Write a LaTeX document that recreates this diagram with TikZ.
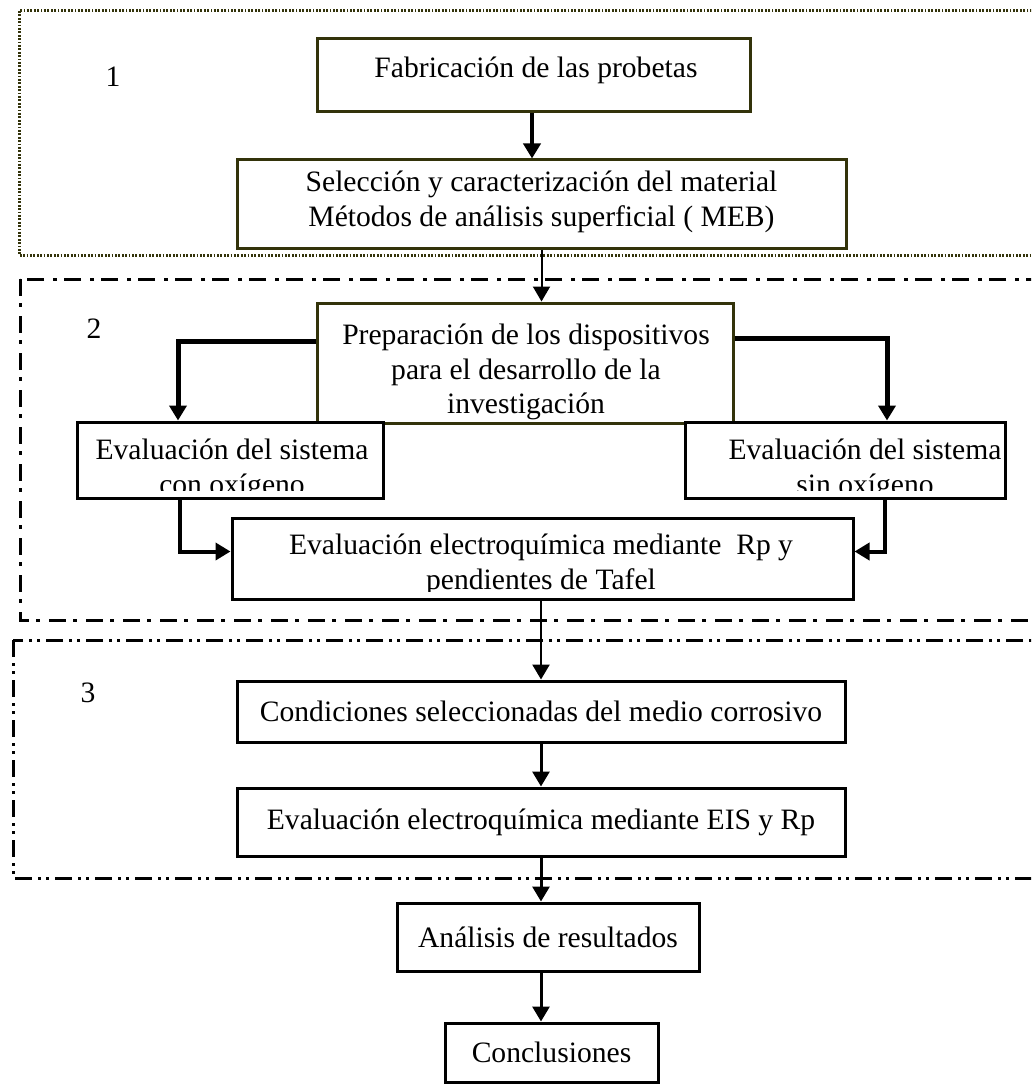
\documentclass[tikz,border=0pt]{standalone}
\usepackage{fontspec}
\setmainfont{Liberation Serif}
\usetikzlibrary{arrows.meta, positioning, calc}
\definecolor{myolive}{RGB}{51,51,10}
\definecolor{mydark}{RGB}{0,0,0}
\tikzset{
  flowbox/.style={rectangle, draw=mydark, fill=white, line width=3pt, inner sep=0pt},
  olivebox/.style={flowbox, draw=myolive},
  boxtext/.style={align=center, inner sep=0pt, font={\fontsize{29.6}{34.5}\selectfont}},
  arrow/.style={-{Triangle[length=15pt,width=17pt]}, line width=3pt, color=mydark},
  fatarrow/.style={arrow, line width=5pt},
  thinarrow/.style={arrow, line width=2pt},
  framedot/.style={draw=myolive, line width=3pt, dash pattern=on 1.8pt off 1.6pt},
  framedash/.style={draw=mydark, line width=3pt, dash pattern=on 17pt off 7pt on 4pt off 9pt},
  framedashdot/.style={draw=mydark, line width=3pt, dash pattern=on 17pt off 6pt on 3pt off 5pt on 3pt off 6pt}
}

\begin{document}
\begin{tikzpicture}[x=1pt, y=-1pt]
  \useasboundingbox (0,0) rectangle (1031,1086);
  \clip (0,0) rectangle (1031,1086);

  % Stage frames
  \draw[framedot] (19,11) rectangle (1060,255);
  \draw[framedash] (20,279) rectangle (1060,620);
  \draw[framedashdot] (13,640) rectangle (1060,878);
  \node[boxtext] (stageone) at (113,77) {1};
  \node[boxtext] (stagetwo) at (94,329) {2};
  \node[boxtext] (stagethree) at (88,693) {3};

  % Stage 1
  \node[olivebox, minimum width=433pt, minimum height=73pt] (fab) at (533.5,75.5) {};
  \node[boxtext] (fabtxt) at (536,70) {Fabricación de las probetas};
  \node[olivebox, minimum width=609pt, minimum height=88pt] (sel) at (541.5,204) {};
  \node[boxtext] (seltxt) at (541.5,202) {Selección y caracterización del material\\Métodos de análisis superficial ( MEB)};

  % Stage 2
  \node[olivebox, minimum width=416pt, minimum height=120pt] (prep) at (525,363) {};
  \node[boxtext] (preptxt) at (526,372) {Preparación de los dispositivos\\para el desarrollo de la\\investigación};
  \node[flowbox, minimum width=306pt, minimum height=76pt] (conox) at (230,460) {};
  \node[flowbox, minimum width=320pt, minimum height=76pt] (sinox) at (845,460) {};
  \node[flowbox, minimum width=621pt, minimum height=81pt] (tafel) at (542.5,558.5) {};
  \begin{scope}
    \clip ([shift={(8pt,-8pt)}]conox.north west) rectangle ([shift={(-8pt,9pt)}]conox.south east);
    \node[boxtext] (conoxtxt) at (232,470) {Evaluación del sistema\\con oxígeno};
  \end{scope}
  \begin{scope}
    \clip ([shift={(8pt,-8pt)}]sinox.north west) rectangle ([shift={(-2pt,9pt)}]sinox.south east);
    \node[boxtext] (sinoxtxt) at (865,470) {Evaluación del sistema\\sin oxígeno};
  \end{scope}
  \begin{scope}
    \clip ([shift={(8pt,-8pt)}]tafel.north west) rectangle ([shift={(-8pt,9pt)}]tafel.south east);
    \node[boxtext] (tafeltxt) at (541,565) {Evaluación electroquímica mediante\ \ Rp y\\pendientes de Tafel};
  \end{scope}

  % Stage 3
  \node[flowbox, boxtext, minimum width=608pt, minimum height=61pt] (cond) at (541,711.5) {Condiciones seleccionadas del medio corrosivo};
  \node[flowbox, boxtext, minimum width=608pt, minimum height=68pt] (eis) at (541,822) {Evaluación electroquímica mediante EIS y Rp};

  % Results
  \node[flowbox, boxtext, minimum width=302pt, minimum height=68pt] (anal) at (548,937) {Análisis de resultados};
  \node[flowbox, boxtext, minimum width=213pt, minimum height=59pt] (concl) at (551.5,1052.5) {Conclusiones};

  % Connectors
  \draw[arrow, line width=4pt] ([xshift=-1.5pt]fab.south) -- ([xshift=-1.5pt]fab.south |- sel.north);
  \draw[thinarrow] (sel.south) -- (sel.south |- prep.north);
  \draw[fatarrow] ([yshift=-40pt]prep.north west) -| ([xshift=-52pt]conox.north);
  \draw[fatarrow] ([yshift=-37pt]prep.north east) -| ([xshift=42pt]sinox.north);
  \draw[arrow, line width=4pt] ([xshift=-50pt]conox.south) |- ([yshift=7pt]tafel.west);
  \draw[arrow, line width=4pt] ([xshift=40pt]sinox.south) |- ([yshift=7pt]tafel.east);
  \draw[arrow, line width=2.5pt] ([xshift=-1.5pt]tafel.south) -- ([xshift=-1.5pt]tafel.south |- cond.north);
  \draw[arrow] (cond.south) -- (eis.north);
  \draw[arrow] (eis.south) -- (eis.south |- anal.north);
  \draw[arrow] ([xshift=-7pt]anal.south) -- ([xshift=-7pt]anal.south |- concl.north);
\end{tikzpicture}
\end{document}
